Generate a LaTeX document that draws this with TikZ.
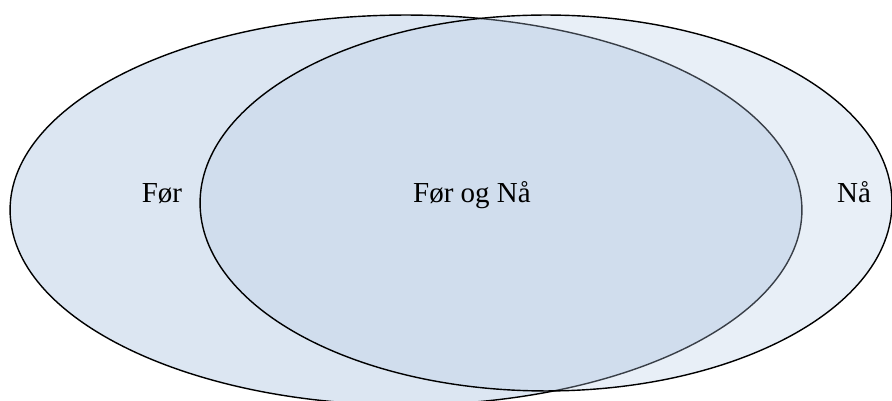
\documentclass[tikz,border=0pt]{standalone}
\usepackage{fontspec}
\setmainfont{Liberation Serif}
\usetikzlibrary{shapes.geometric}
\definecolor{foerblue}{RGB}{220,230,242}
\definecolor{naablue}{RGB}{182,202,229}

\begin{document}
\begin{tikzpicture}[x=0.02cm,y=-0.02cm,
  setbox/.style={draw=black,ellipse,line width=0.8pt,inner sep=0pt,outer sep=0pt},
  lbl/.style={anchor=base,font=\fontsize{16.5}{19}\selectfont}]
\useasboundingbox (0,0) rectangle (892,401);
\node[setbox,fill=foerblue,minimum width=15.84cm,minimum height=7.8cm] (foer) at (406,210) {};
\node[setbox,fill=naablue,fill opacity=0.31,minimum width=13.84cm,minimum height=7.52cm] (naa) at (546,203) {};
\node[lbl] (foerlbl) at (162,203) {Før};
\node[lbl] (bothlbl) at (472,203) {Før og Nå};
\node[lbl] (naalbl) at (854,203) {Nå};
\end{tikzpicture}
\end{document}
